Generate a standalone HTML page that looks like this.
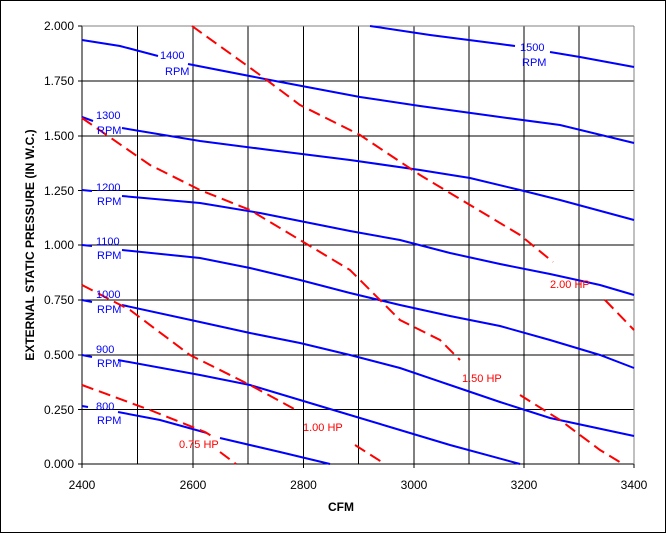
<!DOCTYPE html>
<html><head><meta charset="utf-8"><style>
html,body{margin:0;padding:0;background:#fff}
svg{display:block}
text{font-family:"Liberation Sans",Arial,sans-serif}
</style></head><body>
<svg width="666" height="533" viewBox="0 0 666 533">
<rect x="0.5" y="0.5" width="665" height="532" fill="#fff" stroke="#000"/>
<g stroke="#000" stroke-width="1">
<line x1="137.5" y1="26" x2="137.5" y2="464"/><line x1="193" y1="26" x2="193" y2="464"/>
<line x1="248" y1="26" x2="248" y2="464"/><line x1="303.5" y1="26" x2="303.5" y2="464"/>
<line x1="358.5" y1="26" x2="358.5" y2="464"/><line x1="414" y1="26" x2="414" y2="464"/>
<line x1="469" y1="26" x2="469" y2="464"/><line x1="524" y1="26" x2="524" y2="464"/>
<line x1="579" y1="26" x2="579" y2="464"/>
<line x1="82" y1="81" x2="634" y2="81"/><line x1="82" y1="136" x2="634" y2="136"/>
<line x1="82" y1="190.5" x2="634" y2="190.5"/><line x1="82" y1="245" x2="634" y2="245"/>
<line x1="82" y1="300" x2="634" y2="300"/><line x1="82" y1="355" x2="634" y2="355"/>
<line x1="82" y1="409.5" x2="634" y2="409.5"/>
<line x1="82" y1="26" x2="82" y2="464"/><line x1="82" y1="464" x2="634" y2="464"/>
<line x1="78" y1="26" x2="82" y2="26"/><line x1="78" y1="81" x2="82" y2="81"/><line x1="78" y1="136" x2="82" y2="136"/><line x1="78" y1="190.5" x2="82" y2="190.5"/><line x1="78" y1="245" x2="82" y2="245"/><line x1="78" y1="300" x2="82" y2="300"/><line x1="78" y1="355" x2="82" y2="355"/><line x1="78" y1="409.5" x2="82" y2="409.5"/><line x1="78" y1="464" x2="82" y2="464"/>
<line x1="82" y1="464" x2="82" y2="468"/><line x1="193" y1="464" x2="193" y2="468"/><line x1="303.5" y1="464" x2="303.5" y2="468"/><line x1="414" y1="464" x2="414" y2="468"/><line x1="524" y1="464" x2="524" y2="468"/><line x1="634" y1="464" x2="634" y2="468"/>
</g>
<line x1="82" y1="26" x2="634" y2="26" stroke="#808080"/>
<line x1="634" y1="26" x2="634" y2="464" stroke="#808080"/>
<g fill="none" stroke="#0000ff" stroke-width="2">
<polyline points="370,26 430,35 500,44 515,46"/><polyline points="550,52 580,57 634,67"/>
<polyline points="82,40 120,46 158,56"/><polyline points="188,64 270,80 360,97 420,106 500,117 560,125 634,143"/>
<polyline points="82,117 93,121"/><polyline points="122,128 200,141 270,150 350,160 420,170 470,178 520,190 560,200 634,220"/>
<polyline points="82,190 92,191"/><polyline points="122,196 200,203 260,213 300,221 350,231 400,240 450,253 500,264 550,274 600,285 634,295"/>
<polyline points="82,245 92,246"/><polyline points="122,250 200,258 250,268 300,280 350,293 400,305 450,316 500,326 550,340 600,355 634,368"/>
<polyline points="82,300 92,302"/><polyline points="122,305 200,322 250,333 300,343 350,355 400,368 450,385 500,402 550,418 634,436"/>
<polyline points="82,355 92,357"/><polyline points="118,360 200,375 250,385 300,400 350,415 400,430 450,445 520,464"/>
<polyline points="82,406 88,407"/><polyline points="118,412 160,420 207,433"/><polyline points="220,438 280,452 330,464"/>
</g>
<g fill="none" stroke="#ff0000" stroke-width="2" stroke-dasharray="12,6">
<polyline points="192,26 260,75 300,105 360,135 420,175 470,205 520,235 553,262"/><polyline points="605,300 634,330"/>
<polyline points="82,118 150,165 200,190 250,210 300,240 350,270 400,320 440,340 460,360"/><polyline points="520,395 560,420 600,450 623,464"/>
<polyline points="82,285 130,310 190,355 250,385 298,411"/><polyline points="355,445 385,464"/>
<polyline points="82,385 150,410 205,432 215,438"/><polyline points="220,452 236,464"/>
</g>
<g font-size="11" fill="#0000ff">
<text x="160" y="59">1400</text><text x="165" y="75">RPM</text>
<text x="520" y="51">1500</text><text x="522" y="66">RPM</text>
<text x="96" y="119">1300</text><text x="97" y="134">RPM</text>
<text x="96" y="191">1200</text><text x="97" y="205">RPM</text>
<text x="96" y="245">1100</text><text x="97" y="259">RPM</text>
<text x="96" y="298">1000</text><text x="97" y="313">RPM</text>
<text x="96" y="353">900</text><text x="97" y="367">RPM</text>
<text x="96" y="410">800</text><text x="97" y="424">RPM</text>
</g>
<g font-size="11" fill="#ff0000">
<text x="550" y="288">2.00 HP</text><text x="462" y="382">1.50 HP</text>
<text x="303" y="431">1.00 HP</text><text x="179" y="448">0.75 HP</text>
</g>
<g font-size="12" fill="#000" text-anchor="end">
<text x="74" y="30">2.000</text><text x="74" y="85">1.750</text><text x="74" y="140">1.500</text><text x="74" y="195">1.250</text><text x="74" y="249">1.000</text><text x="74" y="304">0.750</text><text x="74" y="359">0.500</text><text x="74" y="414">0.250</text><text x="74" y="468">0.000</text>
</g>
<g font-size="12" fill="#000" text-anchor="middle">
<text x="82" y="489">2400</text><text x="193" y="489">2600</text><text x="303.5" y="489">2800</text><text x="414" y="489">3000</text><text x="524" y="489">3200</text><text x="634" y="489">3400</text>
</g>
<text x="341" y="511" font-size="12" font-weight="bold" text-anchor="middle">CFM</text>
<text transform="translate(34,245) rotate(-90)" font-size="12" font-weight="bold" text-anchor="middle">EXTERNAL STATIC PRESSURE (IN W.C.)</text>
</svg>
</body></html>
